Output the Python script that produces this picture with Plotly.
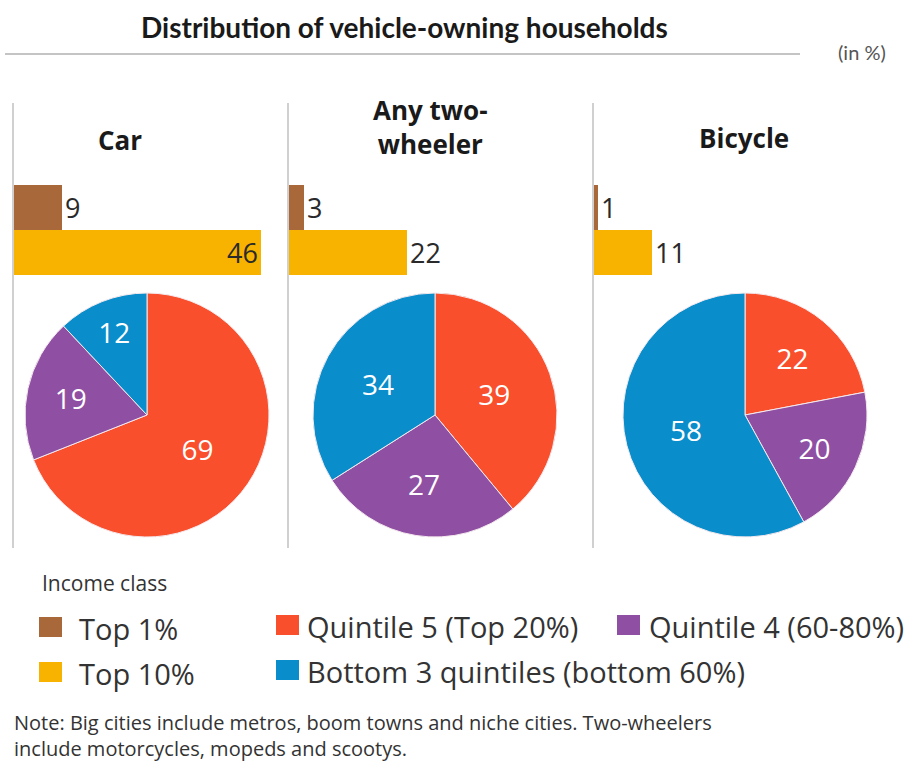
import plotly.graph_objects as go

W, H = 919, 772

# ---------------- data ----------------
panels = ["Car", "Any two-<br>wheeler", "Bicycle"]
bar_classes = ["Top 1%", "Top 10%"]
top1 = [9, 3, 1]
top10 = [46, 22, 11]
pie_labels = ["Quintile 5 (Top 20%)", "Quintile 4 (60-80%)", "Bottom 3 quintiles (bottom 60%)"]
pie_values = [
    [69, 19, 12],
    [39, 27, 34],
    [22, 20, 58],
]
bar_colors = ["#A8683A", "#F7B300"]
pie_colors = ["#F94F2C", "#8F4FA3", "#0A8DCB"]
title_text = "Distribution of vehicle-owning households"
unit_text = "(in %)"
legend_title = "Income class"
note_text = ("Note: Big cities include metros, boom towns and niche cities. Two-wheelers<br>"
             "include motorcycles, mopeds and scootys.")

# ---------------- layout helpers ----------------
def px(x):
    return x / W

def py(y):
    return 1 - y / H

panel_left = [13, 288, 593]
title_cx = [120, 430, 744]
title_cy = [140, 127, 138]
pie_cx = [147, 435, 745]
pie_cy = 415
pie_r = 122
scale = 5.4  # px per percentage point
bar_w = 280

fig = go.Figure()

for i in range(3):
    ax = "" if i == 0 else str(i + 1)
    vals = [top1[i], top10[i]]
    positions = ["outside", "inside" if i == 0 else "outside"]
    lab_font = dict(family="Open Sans", size=27, color="#2a2a2a")
    fig.add_trace(go.Bar(
        x=vals, y=bar_classes, orientation="h",
        marker=dict(color=bar_colors, line=dict(width=0)),
        text=[str(v) for v in vals], textposition=positions,
        insidetextanchor="end",
        textfont=lab_font, outsidetextfont=lab_font, insidetextfont=lab_font,
        cliponaxis=False,
        xaxis="x" + ax, yaxis="y" + ax, showlegend=False, hoverinfo="skip",
    ))
    fig.update_layout(**{
        "xaxis" + ax: dict(domain=[px(panel_left[i]), px(panel_left[i] + bar_w)],
                           range=[0, bar_w / scale], visible=False, anchor="y" + ax),
        "yaxis" + ax: dict(domain=[py(275), py(185)], range=[1.5, -0.5],
                           visible=False, anchor="x" + ax),
    })
    fig.add_trace(go.Pie(
        labels=pie_labels, values=pie_values[i], sort=False, direction="clockwise",
        rotation=0, marker=dict(colors=pie_colors, line=dict(color="#f4e9ee", width=1)),
        textinfo="value", textposition="inside", insidetextorientation="horizontal",
        textfont=dict(family="Open Sans", size=28, color="white"),
        domain=dict(x=[px(pie_cx[i] - pie_r), px(pie_cx[i] + pie_r)],
                    y=[py(pie_cy + pie_r), py(pie_cy - pie_r)]),
        showlegend=False, hoverinfo="skip",
    ))

shapes = []
annotations = []

# header
annotations.append(dict(x=px(404), y=py(27), xref="paper", yref="paper", text=title_text,
                        showarrow=False, xanchor="center", yanchor="middle",
                        font=dict(family="Lato", size=28, color="#1a1a1a", weight="bold")))
shapes.append(dict(type="line", xref="paper", yref="paper", x0=px(5), x1=px(800),
                   y0=py(54), y1=py(54), line=dict(color="#c4c4c4", width=2)))
annotations.append(dict(x=px(862), y=py(52), xref="paper", yref="paper", text=unit_text,
                        showarrow=False, xanchor="center", yanchor="middle",
                        font=dict(family="Lato", size=20, color="#555555")))

# separators and panel titles
for i in range(3):
    shapes.append(dict(type="line", xref="paper", yref="paper", x0=px(panel_left[i]),
                       x1=px(panel_left[i]), y0=py(103), y1=py(548),
                       line=dict(color="#d0d0d0", width=2)))
    annotations.append(dict(x=px(title_cx[i]), y=py(title_cy[i]), xref="paper", yref="paper",
                            text=panels[i], showarrow=False, xanchor="center", yanchor="middle",
                            font=dict(family="Open Sans", size=26, color="#1a1a1a",
                                      weight="bold")))

# legend (drawn)
legend_font = dict(family="Open Sans", size=29, color="#333333")
annotations.append(dict(x=px(40), y=py(583), xref="paper", yref="paper", text=legend_title,
                        showarrow=False, xanchor="left", yanchor="middle",
                        font=dict(family="Open Sans", size=21, color="#333333")))
legend_items = [
    (bar_classes[0], bar_colors[0], 39, 627, 77),
    (bar_classes[1], bar_colors[1], 39, 672, 77),
    (pie_labels[0], pie_colors[0], 276, 625, 305),
    (pie_labels[2], pie_colors[2], 276, 670, 305),
    (pie_labels[1], pie_colors[1], 617, 625, 647),
]
for label, color, x0, yc, xt in legend_items:
    shapes.append(dict(type="rect", xref="paper", yref="paper", x0=px(x0), x1=px(x0 + 23),
                       y0=py(yc + 10), y1=py(yc - 10), fillcolor=color, line=dict(width=0)))
    annotations.append(dict(x=px(xt), y=py(yc + 1), xref="paper",
                            yref="paper", text=label, showarrow=False, xanchor="left",
                            yanchor="middle", font=legend_font))

# note
annotations.append(dict(x=px(12), y=py(735), xref="paper", yref="paper", text=note_text,
                        showarrow=False, xanchor="left", yanchor="middle", align="left",
                        font=dict(family="Open Sans", size=20, color="#333333")))

fig.update_layout(
    width=W, height=H, margin=dict(l=0, r=0, t=0, b=0),
    paper_bgcolor="white", plot_bgcolor="white",
    bargap=0, shapes=shapes, annotations=annotations, showlegend=False,
)

fig.write_html("out.html")
